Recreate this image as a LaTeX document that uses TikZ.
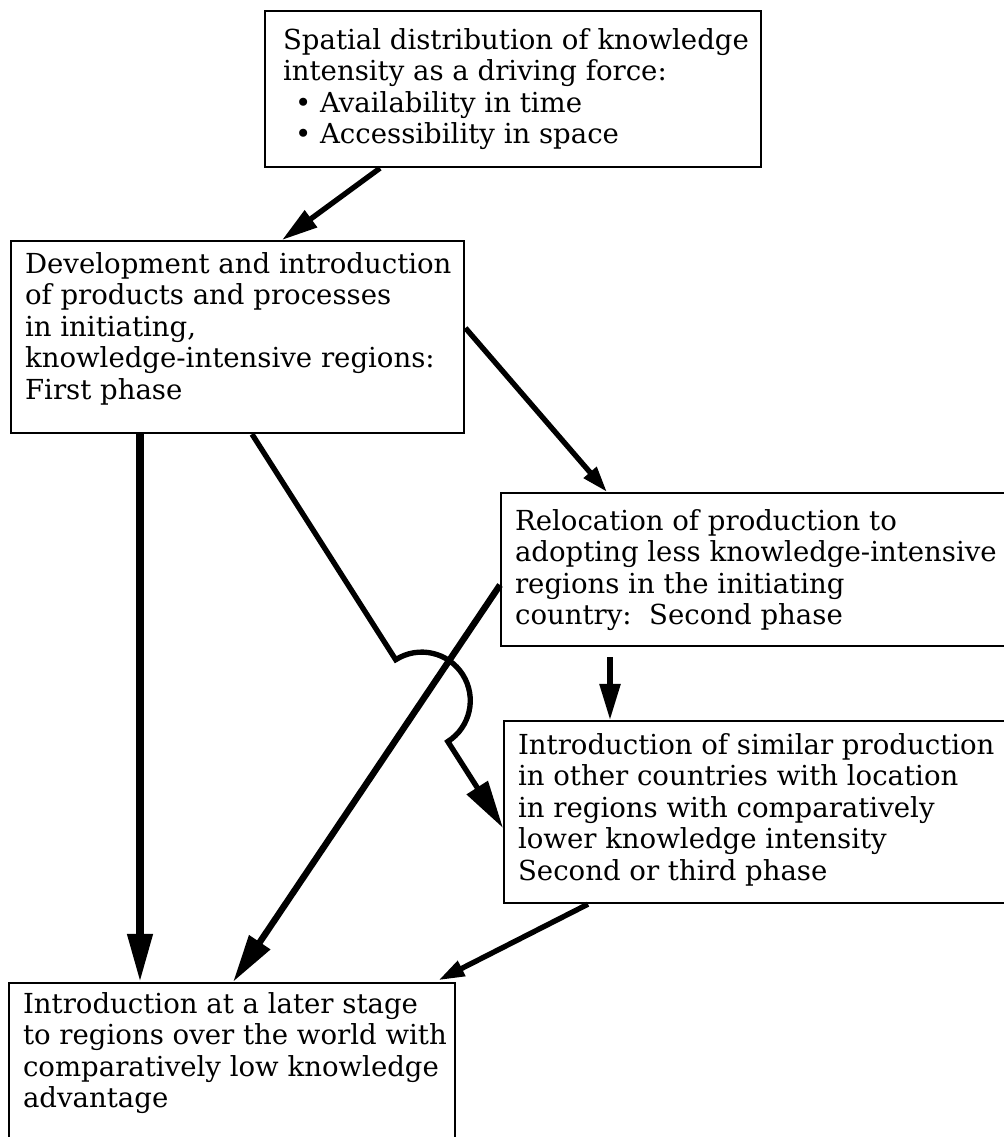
\documentclass[tikz,border=0pt]{standalone}
\usepackage{fontspec}
\setmainfont{DejaVu Serif}
\usetikzlibrary{arrows.meta}
\tikzset{
  box/.style={draw,line width=1.5pt,anchor=north west,inner xsep=0.35cm,inner ysep=0.25cm},
  flow/.style={line width=3.8pt,-{Triangle[length=0.9cm,width=0.5cm]}},
  bighead/.style={-{Triangle[length=1.2cm,width=0.6cm]}},
  smallhead/.style={-{Triangle[length=0.65cm,width=0.4cm]}}
}
\newcommand{\boxtext}[3]{\parbox[c][#2][t]{#1}{\fontsize{19.6}{22.4}\selectfont
  \begin{tabular}[t]{@{}l@{}}#3\end{tabular}}}
\begin{document}
\begin{tikzpicture}[x=0.025cm,y=-0.025cm]
\useasboundingbox (0,0) rectangle (1004,1137);
% boxes
\node[box,inner xsep=0.45cm,inner ysep=0.4cm](top) at (264,10){\boxtext{11.5cm}{3.1cm}{Spatial distribution of knowledge\\
intensity as a driving force:\\
\hspace*{0.3cm}\textbullet\ Availability in time\\
\hspace*{0.3cm}\textbullet\ Accessibility in space}};
\node[box](dev) at (10,240){\boxtext{10.63cm}{4.3cm}{Development and introduction\\
of products and processes\\
in initiating,\\
knowledge-intensive regions:\\
First phase}};
\node[box,inner ysep=0.375cm](reloc) at (500,492){\boxtext{12.3cm}{3.075cm}{Relocation of production to\\
adopting less knowledge-intensive\\
regions in the initiating\\
country:\ \ Second phase}};
\node[box,inner ysep=0.275cm](simil) at (503,720){\boxtext{12.3cm}{4cm}{Introduction of similar production\\
in other countries with location\\
in regions with comparatively\\
lower knowledge intensity\\
Second or third phase}};
\node[box,inner ysep=0.2cm](adv) at (8,982){\boxtext{10.45cm}{4.6cm}{Introduction at a later stage\\
to regions over the world with\\
comparatively low knowledge\\
advantage}};
% arrows
\coordinate(hop) at (395.7,659.7);
\draw[flow]({380,0} |- top.south)--({282,0} |- dev.north);
\draw[flow,smallhead]({0,328} -| dev.east)--({607,0} |- reloc.north);
\draw[flow,bighead,line width=5.2pt]({140,0} |- dev.south)--({140,0} |- adv.north);
\draw[flow,bighead]({252,0} |- dev.south)--(hop) arc[start angle=122.5,end angle=-57.5,radius=1.2125cm]--({0,828} -| simil.west);
\draw[flow,bighead,line width=4.6pt]({0,585} -| reloc.west)--({233,0} |- adv.north);
\draw[flow,shorten <=0.25cm]({610,0} |- reloc.south)--({610,0} |- simil.north);
\draw[flow,smallhead,shorten >=0.1cm]({588,0} |- simil.south)--({435,0} |- adv.north);
\end{tikzpicture}
\end{document}
